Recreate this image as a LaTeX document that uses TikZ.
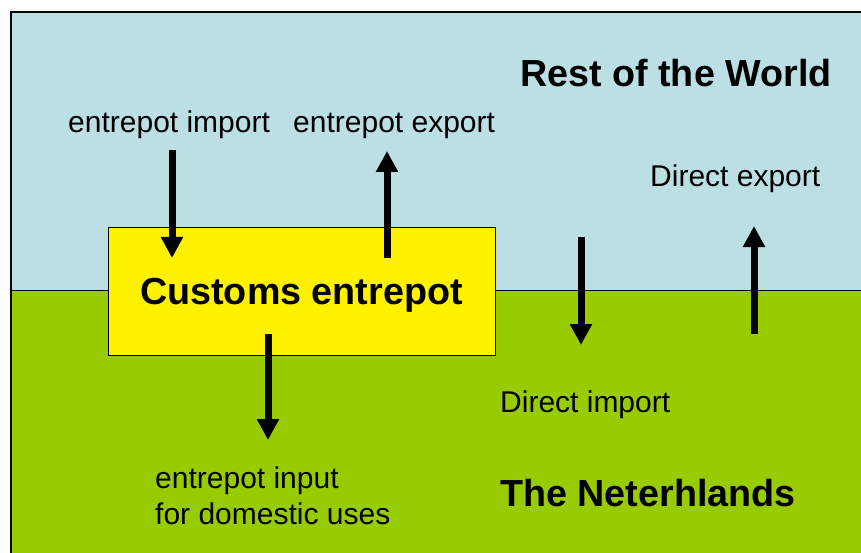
\documentclass[tikz,border=0pt]{standalone}
\usepackage{fontspec}
\setmainfont{Liberation Sans}
\usepackage{tikz}
\usetikzlibrary{arrows.meta}

\definecolor{worldblue}{RGB}{187,223,227}
\definecolor{landgreen}{RGB}{153,204,0}

\tikzset{
    flow/.style={line width=7pt, -{Triangle[length=21pt,width=21pt]}},
    plaintext/.style={font=\fontsize{30}{36}\selectfont, inner sep=0pt, anchor=base west, align=left},
    regiontext/.style={font=\fontsize{37.7}{44}\selectfont\bfseries, inner sep=0pt, anchor=base west}
}

\begin{document}
\begin{tikzpicture}[x=1pt, y=-1pt]
            \useasboundingbox (0,0) rectangle (861,553);
            
            \fill[worldblue] (11,12) rectangle (861,290);
            \fill[landgreen] (11,290) rectangle (861,553);
            \draw[line width=0.8pt] (11,290) -- (861,290);
            \draw[line width=2.4pt] (861,12) -- (11,12) -- (11,553);
            
            \node[draw, line width=0.8pt, fill=yellow, minimum width=387pt, minimum height=128pt, inner sep=0pt] (entrepot) at (301.5,291) {};
            \node[regiontext] (entrepottext) at (140,304) {Customs entrepot};
            
            \node[regiontext] (world) at (520,87) {Rest of the World};
            \node[regiontext] (nl) at (500,506) {The Neterhlands};
            
            \node[plaintext] (imptext) at (68,133) {entrepot import};
            \node[plaintext] (exptext) at (293,133) {entrepot export};
            \node[plaintext] (dexptext) at (650,187) {Direct export};
            \node[plaintext] (dimptext) at (500,412) {Direct import};
            \node[plaintext] (domtext) at (155,524) {entrepot input\\for domestic uses};
            
            \coordinate (imptop) at (172,150);
            \coordinate (imptip) at (172,258);
            \coordinate (expbase) at (387,258);
            \coordinate (exptip) at (387,151);
            \coordinate (dombase) at (268,334);
            \coordinate (domtip) at (268,440);
            \coordinate (dimptop) at (581,237);
            \coordinate (dimptip) at (581,345);
            \coordinate (dexpbase) at (754,334);
            \coordinate (dexptip) at (754,226);
            
            \draw[flow] (imptop) -- (imptip);
            \draw[flow] (expbase) -- (exptip);
            \draw[flow] (dombase) -- (domtip);
            \draw[flow] (dimptop) -- (dimptip);
            \draw[flow] (dexpbase) -- (dexptip);
\end{tikzpicture}
\end{document}
